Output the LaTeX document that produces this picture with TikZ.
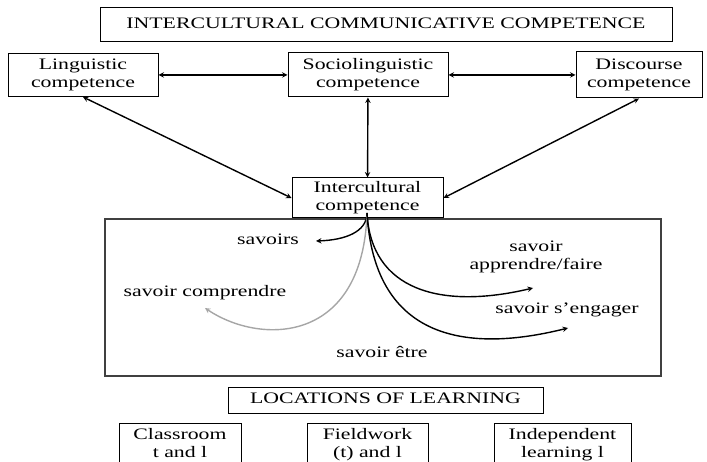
\documentclass[tikz,border=0pt]{standalone}
\usepackage{fontspec}
\setmainfont{Liberation Serif}
\usetikzlibrary{arrows}
\newcommand{\wide}[1]{\scalebox{1.36}[1]{\begin{tabular}{@{}c@{}}#1\end{tabular}}}
\tikzstyle{arrow} = [line width=1.4pt,<->,>=stealth]
\tikzstyle{branch} = [line width=1.4pt,->,>=stealth]
\tikzstyle{box} = [draw,line width=1pt,inner sep=0pt]

\begin{document}
\begin{tikzpicture}[x=1pt,y=-1pt,font=\fontsize{16}{18.5}\selectfont]
        \useasboundingbox (0,0) rectangle (707,462);
        \clip (0,0) rectangle (707,462);
        \node (icc)[box,
            minimum width=572pt,
            minimum height=34pt] at (386,25) {\wide{INTERCULTURAL COMMUNICATIVE COMPETENCE}};
        \node (ling)[box,
            minimum width=150pt,
            minimum height=43pt] at (83,75) {\wide{Linguistic\\competence}};
        \node (socio)[box,
            minimum width=160pt,
            minimum height=44pt] at (368,75) {\wide{Sociolinguistic\\competence}};
        \node (disc)[box,
            minimum width=126pt,
            minimum height=46pt] at (639,75) {\wide{Discourse\\competence}};
        \draw [arrow] (ling) -- (socio);
        \draw [arrow] (socio) -- (disc);
        \node (inter)[box,
            minimum width=151pt,
            minimum height=40pt] at (367.5,198) {\wide{Intercultural\\competence}};
        \draw [arrow] (inter.west) -- (ling.south);
        \draw [arrow] (inter) -- (socio);
        \draw [arrow] (inter.east) -- (disc.south);
        % area of the savoirs
        \node (area)[draw=black!75,line width=1.2pt,
            minimum width=556pt,
            minimum height=157pt] at (383,297.5) {};
        \node (sav) at (268,241) {\wide{savoirs}};
        \node (appr) at (536,257) {\wide{savoir\\apprendre/faire}};
        \node (compr) at (205,293) {\wide{savoir comprendre}};
        \node (eng) at (567,310) {\wide{savoir s'engager}};
        \node (etre) at (382,354) {\wide{savoir être}};
        \coordinate (root) at (367,213);
        \coordinate (savtip) at (316,241);
        \coordinate (comprtip) at (205,308);
        \coordinate (apprtip) at (533,288);
        \coordinate (engtip) at (568,328);
        \draw [branch] (root) .. controls (367,232) and (345,240) .. (savtip);
        \draw [branch,black!35] (root) .. controls (363,345) and (260,345) .. (comprtip);
        \draw [branch] (root) .. controls (371,290) and (440,310) .. (apprtip);
        \draw [branch] (root) .. controls (374,335) and (460,355) .. (engtip);
        % locations
        \node (loc)[box,
            minimum width=315pt,
            minimum height=26pt] at (385.5,400) {\wide{LOCATIONS OF LEARNING}};
        \node (class)[box,
            minimum width=122pt,
            minimum height=44pt] at (180,445) {\wide{Classroom\\t and l}};
        \node (field)[box,
            minimum width=121pt,
            minimum height=44pt] at (367.5,445) {\wide{Fieldwork\\(t) and l}};
        \node (indep)[box,
            minimum width=137pt,
            minimum height=44pt] at (562.5,445) {\wide{Independent\\learning l}};
    \end{tikzpicture}
\end{document}
